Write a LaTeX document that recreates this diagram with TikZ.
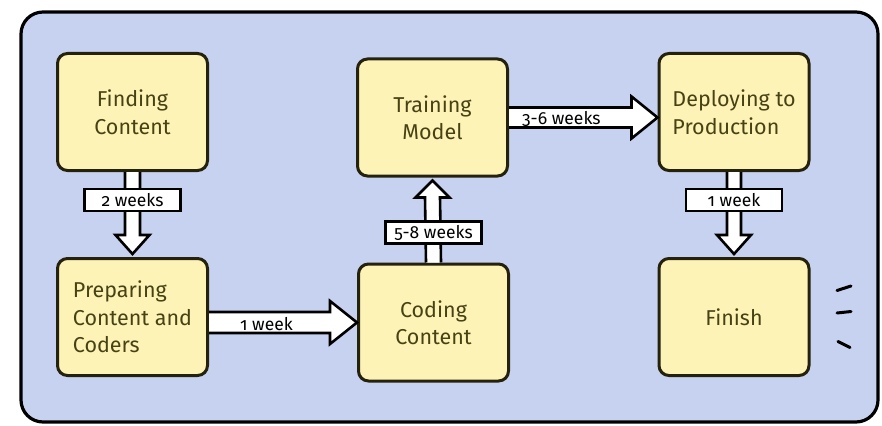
\documentclass[tikz,border=0pt]{standalone}
\usepackage{fontspec}
\setmainfont{Fira Sans}[Numbers=OldStyle]
\usetikzlibrary{calc}

\definecolor{panelblue}{RGB}{198,210,240}
\definecolor{boxfill}{RGB}{254,243,182}
\definecolor{boxline}{RGB}{36,34,12}
\definecolor{boxtext}{RGB}{70,66,20}

\begin{document}
\begin{tikzpicture}[x=1pt,y=-1pt,
  stage/.style={draw=boxline, line width=3pt, fill=boxfill, rounded corners=10pt,
    minimum width=150pt, minimum height=117pt, inner sep=0pt, text=boxtext,
    align=center, font=\fontsize{21.5}{27.5}\selectfont},
  fatarrow/.style={draw=black, fill=white, line width=2.6pt, line join=miter},
  tag/.style={draw=black, fill=white, line width=2.6pt, minimum width=96pt,
    minimum height=22pt, inner sep=0pt, font=\fontsize{17.5}{17.5}\selectfont},
  flowlabel/.style={font=\fontsize{17.5}{17.5}\selectfont, inner sep=0pt, anchor=west},
  tick/.style={line width=3pt, line cap=round}
]
\useasboundingbox (0,0) rectangle (882,425);

% outer panel
\draw[line width=3.2pt, fill=panelblue, rounded corners=22pt] (21,12) rectangle (878,422);

% stages
\node[stage] (find)   at (132.5,112)   {Finding\\Content};
\node[stage, align=left] (prep) at (132.5,317) {Preparing\\Content and\\Coders};
\node[stage] (train)  at (432.5,117.5) {Training\\Model};
\node[stage] (code)   at (433.5,322.5) {Coding\\Content};
\node[stage, align=left] (deploy) at (734,112) {Deploying to\\Production};
\node[stage] (finish) at (734,317)     {Finish};

% Finding -> Preparing
\draw[fatarrow] ($(find.south)+(-7.5,0)$) -- ($(prep.north)+(-7.5,-22)$)
  -- ($(prep.north)+(-17,-22)$) -- ($(prep.north)+(0,-3)$)
  -- ($(prep.north)+(17,-22)$) -- ($(prep.north)+(7.5,-22)$) -- ($(find.south)+(7.5,0)$);
\node[tag] (t1) at ($(find.south)+(0,28)$) {2 weeks};

% Preparing -> Coding
\coordinate (s1) at (prep.east |- code.west);
\draw[fatarrow] ($(s1)+(0,-10.5)$) -- ($(code.west)+(-27,-10.5)$)
  -- ($(code.west)+(-27,-21.5)$) -- (code.west)
  -- ($(code.west)+(-27,21.5)$) -- ($(code.west)+(-27,10.5)$) -- ($(s1)+(0,10.5)$);
\node[flowlabel] (t2) at ($(s1)+(31,1.5)$) {1 week};

% Coding -> Training
\draw[fatarrow] ($(code.north)+(-7.5,0)$) -- ($(train.south)+(-7.5,20)$)
  -- ($(train.south)+(-17,20)$) -- ($(train.south)+(0,3)$)
  -- ($(train.south)+(17,20)$) -- ($(train.south)+(7.5,20)$) -- ($(code.north)+(7.5,0)$);
\node[tag] (t3) at ($(code.north)+(0,-30)$) {5-8 weeks};

% Training -> Deploying
\coordinate (s2) at (deploy.west |- train.east);
\draw[fatarrow] ($(train.east)+(0,-10)$) -- ($(s2)+(-26,-10)$)
  -- ($(s2)+(-26,-21)$) -- (s2)
  -- ($(s2)+(-26,21)$) -- ($(s2)+(-26,10)$) -- ($(train.east)+(0,10)$);
\node[flowlabel] (t4) at ($(train.east)+(13,1)$) {3-6 weeks};

% Deploying -> Finish
\draw[fatarrow] ($(deploy.south)+(-7,0)$) -- ($(finish.north)+(-7,-22)$)
  -- ($(finish.north)+(-17,-22)$) -- ($(finish.north)+(0,-3)$)
  -- ($(finish.north)+(17,-22)$) -- ($(finish.north)+(7,-22)$) -- ($(deploy.south)+(7,0)$);
\node[tag] (t5) at ($(deploy.south)+(0,28)$) {1 week};

% small motion strokes beside Finish
\draw[tick] (837,290.5) -- (851,286);
\draw[tick] (837,313) -- (851,311.5);
\draw[tick] (838,341.5) -- (850,347.5);
\end{tikzpicture}
\end{document}
